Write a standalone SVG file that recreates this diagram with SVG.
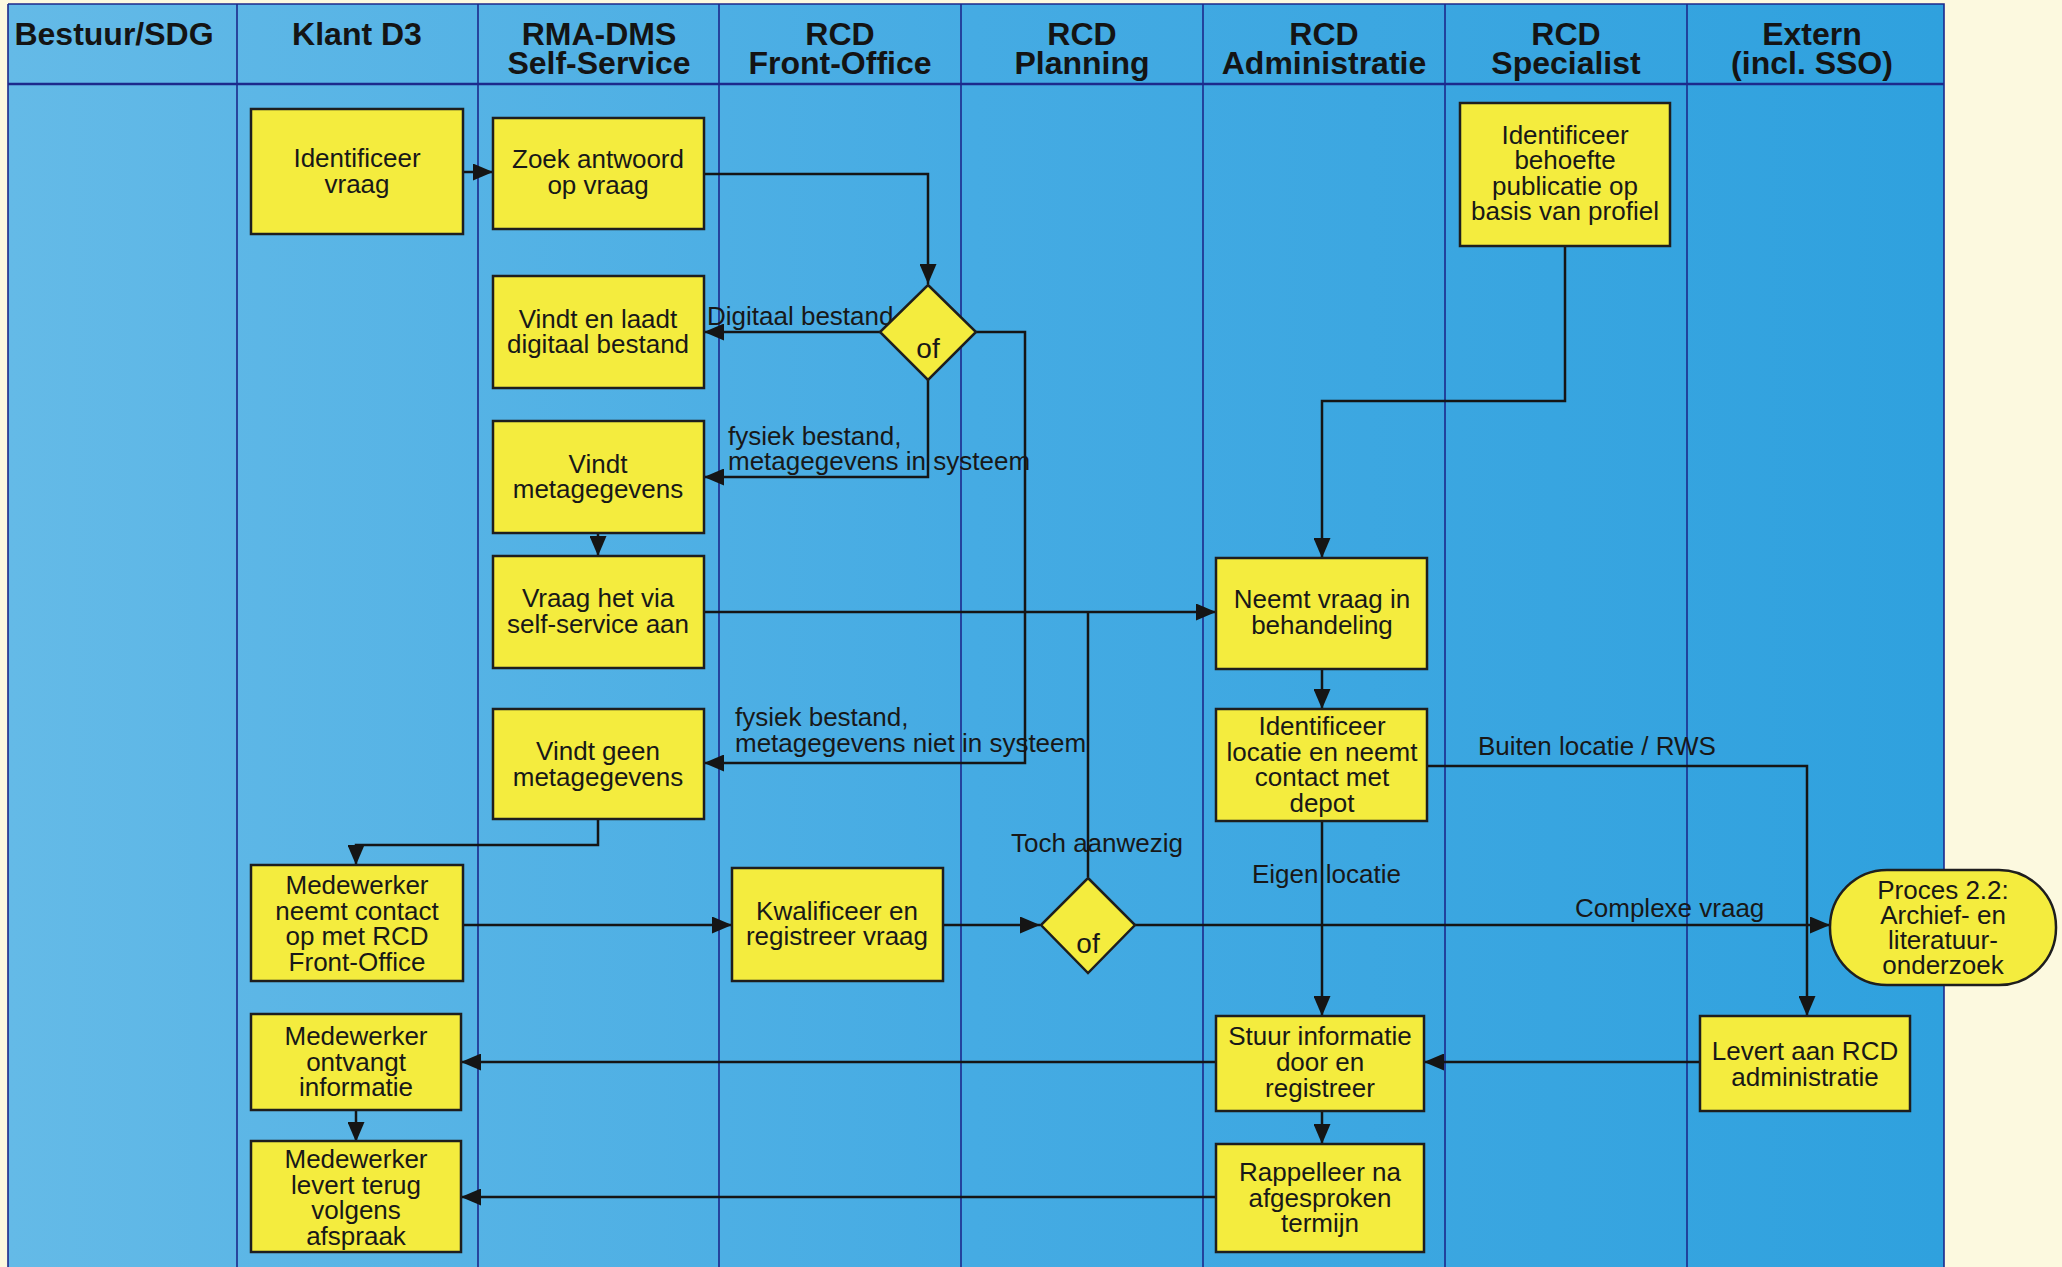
<svg xmlns="http://www.w3.org/2000/svg" width="2062" height="1267" viewBox="0 0 2062 1267">
  <defs>
    <linearGradient id="laneFill" x1="0" y1="0" x2="1" y2="0">
      <stop offset="0" stop-color="#64BAE7"/>
      <stop offset="0.5" stop-color="#45ABE3"/>
      <stop offset="1" stop-color="#2FA1DE"/>
    </linearGradient>
    <marker id="arrow" viewBox="0 0 10 10" refX="10" refY="5" markerWidth="20" markerHeight="17" markerUnits="userSpaceOnUse" orient="auto" preserveAspectRatio="none">
      <path d="M0,0 L10,5 L0,10 z" fill="#151515"/>
    </marker>
  </defs>
  <style>
    .hdr { font-family: "Liberation Sans", Arial, sans-serif; font-size: 32px; font-weight: bold; fill: #141414; text-anchor: middle; }
    .lbl { font-family: "Liberation Sans", Arial, sans-serif; font-size: 26px; fill: #181818; text-anchor: middle; }
    .edge { font-family: "Liberation Sans", Arial, sans-serif; font-size: 26px; fill: #181818; }
    .box { fill: #F4EC3E; stroke: #1E1E1E; stroke-width: 2.5; }
    .lane { stroke: #1C2A8C; stroke-width: 1.6; fill: none; }
    .conn { fill: none; stroke: #151515; stroke-width: 2.5; }
    .conn .arr { marker-end: url(#arrow); }
  </style>

  <!-- page and swimlane pool -->
  <rect x="0" y="0" width="2062" height="1267" fill="#FCF9DF"/>
  <rect x="8" y="4" width="1936" height="1263" fill="url(#laneFill)"/>
  <g id="lanes">
    <path class="lane" d="M8,4 H1944 V1267 M8,4 V1267"/>
    <path class="lane" d="M237,4 V1267 M478,4 V1267 M719,4 V1267 M961,4 V1267 M1203,4 V1267 M1445,4 V1267 M1687,4 V1267"/>
    <path d="M8,84 H1944" stroke="#1C2A8C" stroke-width="2.5"/>
    <text class="hdr" x="114" y="45">Bestuur/SDG</text>
    <text class="hdr" x="357" y="45">Klant D3</text>
    <text class="hdr" x="599" y="45">RMA-DMS<tspan x="599" y="74">Self-Service</tspan></text>
    <text class="hdr" x="840" y="45">RCD<tspan x="840" y="74">Front-Office</tspan></text>
    <text class="hdr" x="1082" y="45">RCD<tspan x="1082" y="74">Planning</tspan></text>
    <text class="hdr" x="1324" y="45">RCD<tspan x="1324" y="74">Administratie</tspan></text>
    <text class="hdr" x="1566" y="45">RCD<tspan x="1566" y="74">Specialist</tspan></text>
    <text class="hdr" x="1812" y="45">Extern<tspan x="1812" y="74">(incl. SSO)</tspan></text>
  </g>

  <!-- connector labels -->
  <g id="edge-labels">
    <text class="edge" x="707" y="325">Digitaal bestand</text>
    <text class="edge" x="728" y="445">fysiek bestand,<tspan x="728" y="470">metagegevens in systeem</tspan></text>
    <text class="edge" x="735" y="726">fysiek bestand,<tspan x="735" y="752">metagegevens niet in systeem</tspan></text>
    <text class="edge" x="1011" y="852">Toch aanwezig</text>
    <text class="edge" x="1252" y="883">Eigen locatie</text>
    <text class="edge" x="1478" y="755">Buiten locatie / RWS</text>
    <text class="edge" x="1575" y="917">Complexe vraag</text>
  </g>

  <!-- connectors -->
  <g id="connectors" class="conn">
    <path class="arr" d="M463,172 H493"/>
    <path class="arr" d="M704,174 H928 V284"/>
    <path class="arr" d="M880,332 H704"/>
    <path class="arr" d="M928,380 V477 H704"/>
    <path class="arr" d="M976,332 H1025 V763 H704"/>
    <path class="arr" d="M598,533 V556"/>
    <path class="arr" d="M704,612 H1216"/>
    <path d="M1088,877 V612"/>
    <path class="arr" d="M1565,246 V401 H1322 V558"/>
    <path class="arr" d="M1322,669 V709"/>
    <path class="arr" d="M1322,821 V1016"/>
    <path class="arr" d="M1427,766 H1807 V1016"/>
    <path class="arr" d="M463,925 H732"/>
    <path class="arr" d="M943,925 H1040"/>
    <path class="arr" d="M1135,925 H1830"/>
    <path class="arr" d="M598,819 V845 H356 V865"/>
    <path class="arr" d="M1216,1062 H461"/>
    <path class="arr" d="M1700,1062 H1424"/>
    <path class="arr" d="M1322,1111 V1144"/>
    <path class="arr" d="M356,1110 V1142"/>
    <path class="arr" d="M1216,1197 H461"/>
  </g>

  <!-- process nodes -->
  <g id="identificeer-vraag">
    <rect class="box" x="251" y="109" width="212" height="125"/>
    <text class="lbl" x="357" y="167">Identificeer<tspan x="357" y="193">vraag</tspan></text>
  </g>
  <g id="zoek-antwoord">
    <rect class="box" x="493" y="118" width="211" height="111"/>
    <text class="lbl" x="598" y="168">Zoek antwoord<tspan x="598" y="194">op vraag</tspan></text>
  </g>
  <g id="identificeer-behoefte">
    <rect class="box" x="1460" y="103" width="210" height="143"/>
    <text class="lbl" x="1565" y="144">Identificeer<tspan x="1565" y="169">behoefte</tspan><tspan x="1565" y="195">publicatie op</tspan><tspan x="1565" y="220">basis van profiel</tspan></text>
  </g>
  <g id="vindt-digitaal">
    <rect class="box" x="493" y="276" width="211" height="112"/>
    <text class="lbl" x="598" y="328">Vindt en laadt<tspan x="598" y="353">digitaal bestand</tspan></text>
  </g>
  <g id="beslissing-bestand">
    <path class="box" d="M928,285 L976,332 L928,380 L880,332 z"/>
    <text class="lbl" x="928" y="358" style="font-size:28px">of</text>
  </g>
  <g id="vindt-metagegevens">
    <rect class="box" x="493" y="421" width="211" height="112"/>
    <text class="lbl" x="598" y="473">Vindt<tspan x="598" y="498">metagegevens</tspan></text>
  </g>
  <g id="vraag-self-service">
    <rect class="box" x="493" y="556" width="211" height="112"/>
    <text class="lbl" x="598" y="607">Vraag het via<tspan x="598" y="633">self-service aan</tspan></text>
  </g>
  <g id="neemt-vraag">
    <rect class="box" x="1216" y="558" width="211" height="111"/>
    <text class="lbl" x="1322" y="608">Neemt vraag in<tspan x="1322" y="634">behandeling</tspan></text>
  </g>
  <g id="vindt-geen">
    <rect class="box" x="493" y="709" width="211" height="110"/>
    <text class="lbl" x="598" y="760">Vindt geen<tspan x="598" y="786">metagegevens</tspan></text>
  </g>
  <g id="identificeer-locatie">
    <rect class="box" x="1216" y="709" width="211" height="112"/>
    <text class="lbl" x="1322" y="735">Identificeer<tspan x="1322" y="761">locatie en neemt</tspan><tspan x="1322" y="786">contact met</tspan><tspan x="1322" y="812">depot</tspan></text>
  </g>
  <g id="medewerker-contact">
    <rect class="box" x="251" y="865" width="212" height="116"/>
    <text class="lbl" x="357" y="894">Medewerker<tspan x="357" y="920">neemt contact</tspan><tspan x="357" y="945">op met RCD</tspan><tspan x="357" y="971">Front-Office</tspan></text>
  </g>
  <g id="kwalificeer">
    <rect class="box" x="732" y="868" width="211" height="113"/>
    <text class="lbl" x="837" y="920">Kwalificeer en<tspan x="837" y="945">registreer vraag</tspan></text>
  </g>
  <g id="beslissing-vraag">
    <path class="box" d="M1088,878 L1135,925 L1088,973 L1041,925 z"/>
    <text class="lbl" x="1088" y="953" style="font-size:28px">of</text>
  </g>
  <g id="proces-2-2">
    <rect class="box" x="1830" y="870" width="226" height="115" rx="57" ry="57"/>
    <text class="lbl" x="1943" y="899">Proces 2.2:<tspan x="1943" y="924">Archief- en</tspan><tspan x="1943" y="949">literatuur-</tspan><tspan x="1943" y="974">onderzoek</tspan></text>
  </g>
  <g id="medewerker-ontvangt">
    <rect class="box" x="251" y="1014" width="210" height="96"/>
    <text class="lbl" x="356" y="1045">Medewerker<tspan x="356" y="1071">ontvangt</tspan><tspan x="356" y="1096">informatie</tspan></text>
  </g>
  <g id="stuur-informatie">
    <rect class="box" x="1216" y="1016" width="208" height="95"/>
    <text class="lbl" x="1320" y="1045">Stuur informatie<tspan x="1320" y="1071">door en</tspan><tspan x="1320" y="1097">registreer</tspan></text>
  </g>
  <g id="levert-aan-rcd">
    <rect class="box" x="1700" y="1016" width="210" height="95"/>
    <text class="lbl" x="1805" y="1060">Levert aan RCD<tspan x="1805" y="1086">administratie</tspan></text>
  </g>
  <g id="medewerker-levert">
    <rect class="box" x="251" y="1141" width="210" height="111"/>
    <text class="lbl" x="356" y="1168">Medewerker<tspan x="356" y="1194">levert terug</tspan><tspan x="356" y="1219">volgens</tspan><tspan x="356" y="1245">afspraak</tspan></text>
  </g>
  <g id="rappelleer">
    <rect class="box" x="1216" y="1144" width="208" height="108"/>
    <text class="lbl" x="1320" y="1181">Rappelleer na<tspan x="1320" y="1207">afgesproken</tspan><tspan x="1320" y="1232">termijn</tspan></text>
  </g>
</svg>
